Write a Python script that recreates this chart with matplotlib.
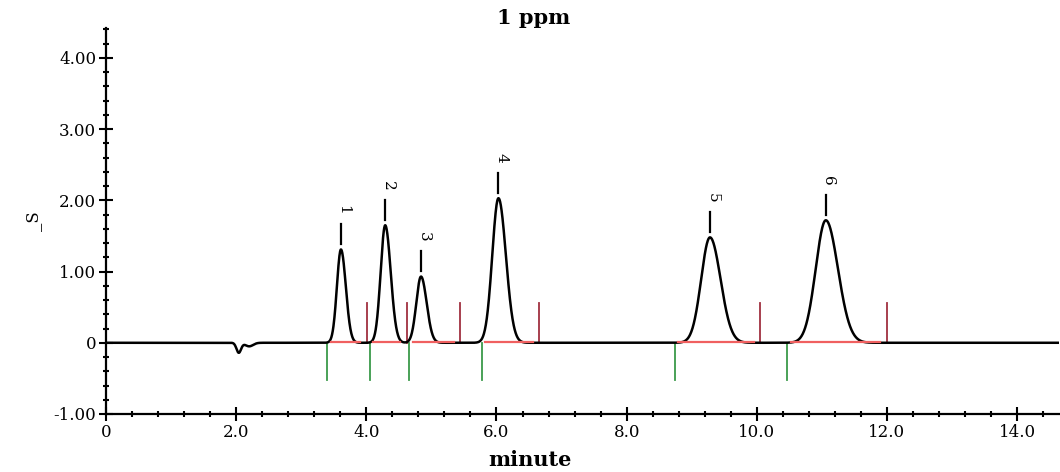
import numpy as np
import matplotlib.pyplot as plt
from matplotlib.ticker import MultipleLocator, FixedFormatter, FixedLocator

# peak table (minutes, signal, peak width in minutes)
peak_labels = ["1", "2", "3", "4", "5", "6"]
peak_times = [3.61, 4.29, 4.84, 6.03, 9.28, 11.06]
peak_heights = [1.31, 1.65, 0.93, 2.03, 1.48, 1.72]
peak_widths = [0.062, 0.07, 0.072, 0.095, 0.135, 0.155]

# integration marks
start_marks = [3.40, 4.06, 4.66, 5.77, 8.74, 10.47]
end_marks = [4.01, 4.62, 5.44, 6.66, 10.05, 12.00]

# small negative disturbance near 2 min
dip_times = [2.04, 2.20]
dip_heights = [-0.14, -0.05]
dip_widths = [0.035, 0.06]

xticks = [0, 2, 4, 6, 8, 10, 12, 14]
xticklabels = ["0", "2.0", "4.0", "6.0", "8.0", "10.0", "12.0", "14.0"]
yticks = [-1, 0, 1, 2, 3, 4]
yticklabels = ["-1.00", "0", "1.00", "2.00", "3.00", "4.00"]

t = np.linspace(0, 14.65, 4000)


def peak_shape(t, rt, h, w, tail=1.2):
	s = np.where(t < rt, w, w * tail)
	return h * np.exp(-0.5 * ((t - rt) / s) ** 2)


signal = np.zeros_like(t)
for rt, h, w in zip(peak_times, peak_heights, peak_widths):
	signal += peak_shape(t, rt, h, w)
for rt, h, w in zip(dip_times, dip_heights, dip_widths):
	signal += peak_shape(t, rt, h, w, tail=1.0)

fig = plt.figure(figsize=(10.6, 4.72), dpi=100)
ax = fig.add_axes([0.1, 0.1229, 0.8995, 0.8178])

ax.plot(t, signal, color='black', lw=1.8, zorder=3)

# red baselines under each peak and the start / end ticks
for s, e in zip(start_marks, end_marks):
	ax.plot([s + 0.05, e - 0.1], [0.012, 0.012], color='#f06060', lw=1.6, zorder=4)
for s in start_marks:
	ax.plot([s, s], [0, -0.52], color='#3a9a4a', lw=1.3, zorder=2)
for e in end_marks:
	ax.plot([e, e], [0, 0.56], color='#a03040', lw=1.3, zorder=2)

for lab, rt, h in zip(peak_labels, peak_times, peak_heights):
	ax.plot([rt, rt], [h + 0.08, h + 0.36], color='black', lw=1.6)
	ax.text(rt + 0.04, h + 0.56, lab, rotation=-90, ha='center', va='center',
		fontsize=11, family='DejaVu Serif')

ax.set_xlim(0, 14.65)
ax.set_ylim(-1, 4.42)
ax.spines['top'].set_visible(False)
ax.spines['right'].set_visible(False)
ax.spines['left'].set_linewidth(1.6)
ax.spines['bottom'].set_linewidth(1.6)

ax.xaxis.set_major_locator(FixedLocator(xticks))
ax.xaxis.set_major_formatter(FixedFormatter(xticklabels))
ax.xaxis.set_minor_locator(MultipleLocator(0.4))
ax.yaxis.set_major_locator(FixedLocator(yticks))
ax.yaxis.set_major_formatter(FixedFormatter(yticklabels))
ax.yaxis.set_minor_locator(MultipleLocator(0.2))
ax.tick_params(which='major', direction='inout', length=10, width=1.5, labelsize=12, pad=2)
ax.tick_params(which='minor', direction='inout', length=5, width=1.5)
for lbl in ax.get_xticklabels() + ax.get_yticklabels():
	lbl.set_family('DejaVu Serif')

ax.set_xlabel("minute", fontsize=15, fontweight='bold', family='DejaVu Serif')
ax.xaxis.set_label_coords(0.445, -0.092)
ax.set_ylabel("_S", fontsize=12, family='DejaVu Serif', labelpad=8)
fig.text(0.503, 0.962, "1 ppm", ha='center', va='center', fontsize=15,
	fontweight='bold', family='DejaVu Serif')

fig.savefig("out.png", dpi=100)
